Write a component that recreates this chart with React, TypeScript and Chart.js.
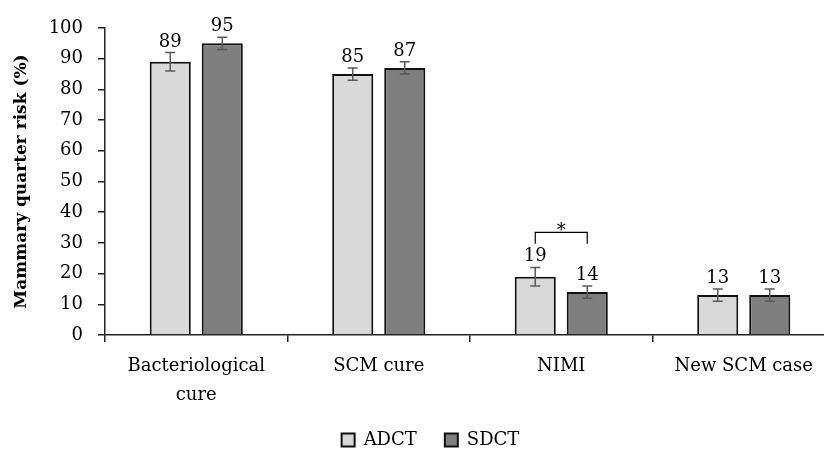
import { useEffect, useRef } from "react";
import { Chart, registerables } from "chart.js";

Chart.register(...registerables);

const categories: (string | string[])[] = [["Bacteriological", "cure"], "SCM cure", "NIMI", "New SCM case"];
const seriesNames = ["ADCT", "SDCT"];
const adctValues = [89, 85, 19, 13];
const sdctValues = [95, 87, 14, 13];
const adctErrors = [3, 2, 3, 2];
const sdctErrors = [2, 2, 2, 2];
const yTicks = { min: 0, max: 100, step: 10 };
const bracketCategoryIndex = 2;
const bracketTopValue = 33.4;
const bracketTipValue = 29.7;
const bracketLabel = "*";

const FONT = "'DejaVu Serif', serif";
const FONT_SIZE = 18;

const legendShiftPlugin = {
  id: "legendShift",
  afterLayout(chart: any) {
    const lg = chart.legend;
    if (lg) {
      lg.left += 13;
      lg.right += 13;
    }
  },
};

const overlayPlugin = {
  id: "overlay",
  afterDatasetsDraw(chart: any) {
    const ctx = chart.ctx as CanvasRenderingContext2D;
    const y = chart.scales.y;
    const errs = [adctErrors, sdctErrors];
    ctx.save();
    chart.data.datasets.forEach((ds: any, di: number) => {
      const meta = chart.getDatasetMeta(di);
      meta.data.forEach((bar: any, i: number) => {
        const v = ds.data[i] as number;
        const e = errs[di][i];
        const x = bar.x;
        const yTop = y.getPixelForValue(v + e);
        const yBot = y.getPixelForValue(v - e);
        ctx.strokeStyle = "#595959";
        ctx.lineWidth = 1.5;
        ctx.beginPath();
        ctx.moveTo(x, yTop);
        ctx.lineTo(x, yBot);
        ctx.moveTo(x - 5, yTop);
        ctx.lineTo(x + 5, yTop);
        ctx.moveTo(x - 5, yBot);
        ctx.lineTo(x + 5, yBot);
        ctx.stroke();
        ctx.fillStyle = "#000";
        ctx.font = `${FONT_SIZE}px ${FONT}`;
        ctx.textAlign = "center";
        ctx.textBaseline = "alphabetic";
        ctx.fillText(String(v), x, yTop - 6);
      });
    });
    // significance bracket
    const b0 = chart.getDatasetMeta(0).data[bracketCategoryIndex];
    const b1 = chart.getDatasetMeta(1).data[bracketCategoryIndex];
    const yt = y.getPixelForValue(bracketTopValue);
    const yb = y.getPixelForValue(bracketTipValue);
    ctx.strokeStyle = "#000";
    ctx.lineWidth = 1.2;
    ctx.beginPath();
    ctx.moveTo(b0.x, yb);
    ctx.lineTo(b0.x, yt);
    ctx.lineTo(b1.x, yt);
    ctx.lineTo(b1.x, yb);
    ctx.stroke();
    ctx.fillStyle = "#000";
    ctx.font = `${FONT_SIZE}px ${FONT}`;
    ctx.textAlign = "center";
    ctx.textBaseline = "alphabetic";
    ctx.fillText(bracketLabel, (b0.x + b1.x) / 2, yt + 4);
    ctx.restore();
  },
};

export default function App() {
  const ref = useRef<HTMLCanvasElement | null>(null);
  useEffect(() => {
    if (!ref.current) return;
    const chart = new Chart(ref.current, {
      type: "bar",
      data: {
        labels: categories,
        datasets: [
          {
            label: seriesNames[0],
            data: adctValues,
            backgroundColor: "#d9d9d9",
            borderColor: "#111",
            borderWidth: 2,
            categoryPercentage: 0.57,
            barPercentage: 0.79,
          },
          {
            label: seriesNames[1],
            data: sdctValues,
            backgroundColor: "#7f7f7f",
            borderColor: "#111",
            borderWidth: 2,
            categoryPercentage: 0.57,
            barPercentage: 0.79,
          },
        ],
      },
      options: {
        responsive: false,
        animation: false,
        devicePixelRatio: 1,
        layout: { padding: { left: 0, top: 28, right: 73, bottom: 0 } },
        plugins: {
          tooltip: { enabled: false },
          legend: {
            position: "bottom",
            labels: {
              boxWidth: 13,
              boxHeight: 13,
              padding: 28,
              color: "#000",
              font: { family: FONT, size: FONT_SIZE },
            },
          },
        },
        scales: {
          x: {
            afterFit: (s: any) => {
              s.height = 68;
            },
            border: { display: true, color: "#222", width: 1.5 },
            grid: { display: true, drawOnChartArea: false, drawTicks: true, tickLength: 7, color: "#222", lineWidth: 1.5 },
            ticks: { color: "#000", padding: 10, maxRotation: 0, font: { family: FONT, size: FONT_SIZE, lineHeight: 1.6 } },
          },
          y: {
            min: yTicks.min,
            max: yTicks.max,
            afterFit: (s: any) => {
              s.width = 105;
            },
            border: { display: true, color: "#222", width: 1.5 },
            grid: { display: true, drawOnChartArea: false, drawTicks: true, tickLength: 7, color: "#222", lineWidth: 1.5 },
            ticks: { stepSize: yTicks.step, color: "#000", padding: 15, font: { family: FONT, size: FONT_SIZE } },
            title: {
              display: true,
              text: "Mammary quarter risk (%)",
              color: "#000",
              padding: { top: 11, bottom: 0 },
              font: { family: FONT, size: 17, weight: "bold" },
            },
          },
        },
      },
      plugins: [overlayPlugin, legendShiftPlugin],
    });
    return () => chart.destroy();
  }, []);
  return (
    <div style={{ position: "fixed", left: 0, top: 0, width: 824, height: 451, overflow: "hidden", background: "#fff" }}>
      <canvas ref={ref} width={908} height={459} style={{ display: "block" }} />
    </div>
  );
}
